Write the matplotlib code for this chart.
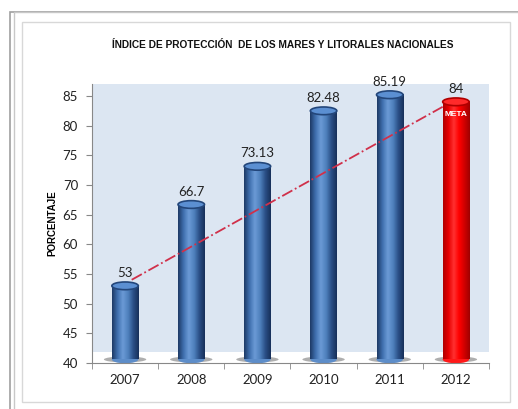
import numpy as np
import matplotlib.pyplot as plt
from matplotlib.patches import Ellipse, Rectangle
from matplotlib.colors import LinearSegmentedColormap

years = ['2007', '2008', '2009', '2010', '2011', '2012']
values = [53, 66.7, 73.13, 82.48, 85.19, 84]
labels = ['53', '66.7', '73.13', '82.48', '85.19', '84']
is_goal = [False, False, False, False, False, True]

title = 'ÍNDICE DE PROTECCIÓN  DE LOS MARES Y LITORALES NACIONALES'

blue_cmap = LinearSegmentedColormap.from_list(
    'cyl_blue', ['#1d3a66', '#3f6fae', '#6b9ad6', '#4f81bd', '#2a4f86', '#17305a'])
red_cmap = LinearSegmentedColormap.from_list(
    'cyl_red', ['#b00000', '#e80000', '#ff3030', '#ff0000', '#d00000', '#a00000'])

fig = plt.figure(figsize=(5.18, 4.09), dpi=100)
fig.patch.set_facecolor('white')

# outer frame like the screenshot
fig.patches.append(Rectangle((10 / 518, -0.01), 0.99, 1 - 12 / 409 + 0.01, transform=fig.transFigure,
                             fill=False, edgecolor='#a0a0a0', linewidth=1.2))
fig.patches.append(Rectangle((14 / 518, -0.01), 0.99, 1 - 12 / 409 + 0.01, transform=fig.transFigure,
                             fill=False, edgecolor='#c8c8c8', linewidth=1.0))
fig.patches.append(Rectangle((22 / 518, 7 / 409), 488 / 518, 380 / 409, transform=fig.transFigure,
                             fill=False, edgecolor='#d8d8d8', linewidth=1.0))

ax = fig.add_axes([92 / 518, 46 / 409, 397 / 518, 279 / 409])
ax.set_xlim(-0.5, 5.5)
ax.set_ylim(40, 87)

# light blue back wall, white floor
ax.add_patch(Rectangle((-0.5, 41.9), 6, 50, facecolor='#dce6f2', edgecolor='none', zorder=0))

x = np.arange(len(years))
w = 0.4
eh = 1.3
grad = np.linspace(0, 1, 64).reshape(1, -1)

for xi, v, goal in zip(x, values, is_goal):
    cmap = red_cmap if goal else blue_cmap
    # shadow at the base
    ax.add_patch(Ellipse((xi, 40.6), w * 1.6, 1.0, facecolor='#9a9a9a', edgecolor='none',
                         alpha=0.8, zorder=1))
    base = 40.6
    ax.imshow(grad, cmap=cmap, extent=[xi - w / 2, xi + w / 2, base, v], aspect='auto', zorder=2)
    ax.add_patch(Ellipse((xi, base), w, eh, facecolor=cmap(0.5), edgecolor='none', zorder=1.5))
    top_face = '#ff2a2a' if goal else '#5b8fd2'
    top_edge = '#b00000' if goal else '#23467a'
    ax.add_patch(Ellipse((xi, v), w, eh, facecolor=top_face, edgecolor=top_edge,
                         linewidth=1.2, zorder=3))

# goal trend line
x0, x1 = 0.1, 4.8
slope = (values[-1] - values[0]) / (x[-1] - x[0])
ax.plot([x0, x1], [values[0] + 0.4 + slope * x0, values[0] + 0.4 + slope * x1],
        color='#d0304a', linestyle='-.', linewidth=1.3, zorder=4)

for xi, v, lab in zip(x, values, labels):
    ax.annotate(lab, (xi, v), xytext=(0, 5), textcoords='offset points',
                ha='center', va='bottom', fontsize=9.5, color='#222222', family='Lato', zorder=5)

ax.text(x[-1], values[-1] - 2.2, 'META', ha='center', va='center', fontsize=6,
        fontweight='bold', color='white', family='Liberation Sans', zorder=5)

ax.set_xticks(x)
ax.set_xticklabels(years)
ax.set_xticks(np.arange(-0.5, 6, 1), minor=True)
ax.tick_params(axis='x', which='major', length=0, pad=8, labelsize=9.5, labelcolor='#222222')
ax.tick_params(axis='x', which='minor', length=4, color='#888888')
ax.set_yticks(np.arange(40, 90, 5))
ax.tick_params(axis='y', length=4, color='#888888', labelsize=9.5, labelcolor='#222222', pad=6)
for lab in ax.get_xticklabels() + ax.get_yticklabels():
    lab.set_family('Lato')

for s in ['top', 'right']:
    ax.spines[s].set_visible(False)
ax.spines['left'].set_color('#888888')
ax.spines['bottom'].set_color('#888888')

ax.set_ylabel('PORCENTAJE', fontsize=7, fontweight='bold', family='Liberation Sans', labelpad=4)

fig.text(283 / 518, 1 - 45 / 409, title, ha='center', va='center', fontsize=7.3,
         fontweight='bold', family='Liberation Sans', color='#111111')

fig.savefig('out.png', dpi=100)
